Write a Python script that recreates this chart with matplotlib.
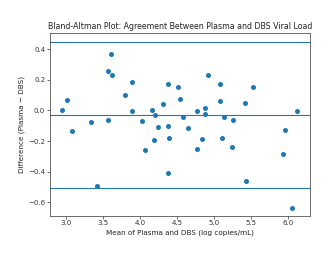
"""Bland-Altman plot: plasma vs DBS viral load."""

import matplotlib

matplotlib.use("Agg")
import matplotlib.pyplot as plt
import numpy as np

# mean of the two methods (log copies/mL)
mean_vals = [
    2.946, 3.013, 3.085, 3.333, 3.422, 3.562, 3.602, 3.624, 3.570, 3.800,
    3.886, 3.886, 4.020, 4.069, 4.163, 4.195, 4.181, 4.236, 4.307, 4.370,
    4.379, 4.375, 4.392, 4.514, 4.532, 4.581, 4.640, 4.761, 4.770, 4.829,
    4.869, 4.869, 4.918, 5.075, 5.075, 5.098, 5.133, 5.251, 5.242, 5.418,
    5.427, 5.526, 5.955, 5.929, 6.050, 6.117,
]
# difference plasma - DBS
diff_vals = [
    0.004, 0.065, -0.137, -0.078, -0.492, 0.256, 0.365, 0.232, -0.063, 0.098,
    0.183, -0.002, -0.072, -0.259, 0.002, -0.031, -0.196, -0.107, 0.039, 0.170,
    -0.104, -0.411, -0.183, 0.150, 0.072, -0.042, -0.113, -0.005, -0.250, -0.187,
    0.017, -0.022, 0.232, 0.174, 0.061, -0.181, -0.046, -0.063, -0.241, 0.048,
    -0.459, 0.152, -0.130, -0.287, -0.635, -0.005,
]
bias = -0.031
upper_loa = 0.446
lower_loa = -0.504

x_ticks = [3.0, 3.5, 4.0, 4.5, 5.0, 5.5, 6.0]
y_ticks = [-0.6, -0.4, -0.2, 0.0, 0.2, 0.4]

fig = plt.figure(figsize=(3.36, 2.57), dpi=100)
ax = fig.add_axes([0.149, 0.161, 0.773, 0.711])

ax.scatter(mean_vals, diff_vals, s=13, color="#1f77b4", linewidths=0, zorder=3)
for level in (bias, upper_loa, lower_loa):
    ax.axhline(level, color="#1f77b4", linewidth=0.8)

ax.set_xlim(2.784, 6.289)
ax.set_ylim(-0.687, 0.506)
ax.set_xticks(x_ticks)
ax.set_yticks(y_ticks)
ax.tick_params(labelsize=5, length=2, width=0.5, pad=1.5, colors="#333333")
for spine in ax.spines.values():
    spine.set_linewidth(0.6)
    spine.set_edgecolor("#555555")

ax.set_title("Bland-Altman Plot: Agreement Between Plasma and DBS Viral Load",
             fontsize=5.7, pad=3, color="#222222")
ax.set_xlabel("Mean of Plasma and DBS (log copies/mL)", fontsize=5.2,
              labelpad=2, color="#222222")
ax.set_ylabel("Difference (Plasma \u2212 DBS)", fontsize=5.2, labelpad=2,
              color="#222222")

fig.savefig("out.png", dpi=100)
